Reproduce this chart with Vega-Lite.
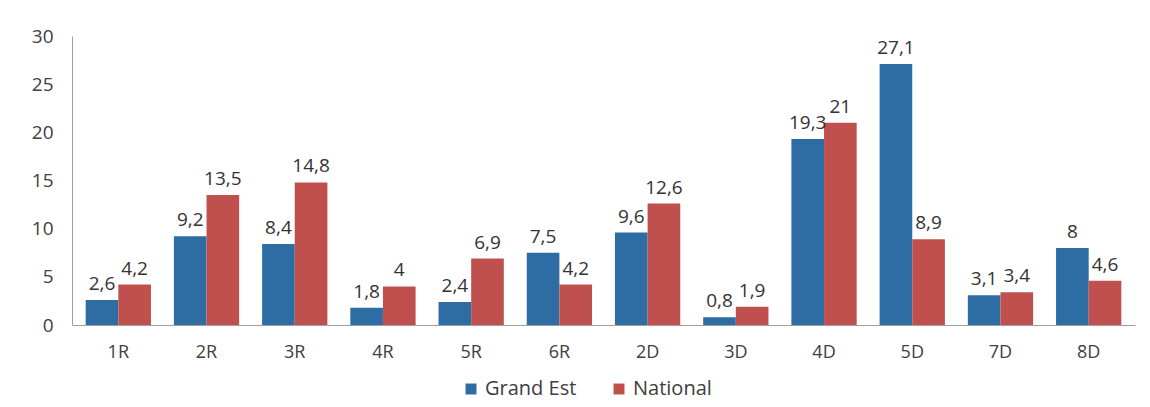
{
  "$schema": "https://vega.github.io/schema/vega-lite/v6.json",
  "width": 1063,
  "height": 289,
  "autosize": {"type": "none"},
  "padding": {"left": 72, "top": 36, "right": 15, "bottom": 82},
  "background": "white",
  "data": {
    "values": [
      {"cat": "1R", "serie": "Grand Est", "v": 2.6},
      {"cat": "1R", "serie": "National", "v": 4.2},
      {"cat": "2R", "serie": "Grand Est", "v": 9.2},
      {"cat": "2R", "serie": "National", "v": 13.5},
      {"cat": "3R", "serie": "Grand Est", "v": 8.4},
      {"cat": "3R", "serie": "National", "v": 14.8},
      {"cat": "4R", "serie": "Grand Est", "v": 1.8},
      {"cat": "4R", "serie": "National", "v": 4},
      {"cat": "5R", "serie": "Grand Est", "v": 2.4},
      {"cat": "5R", "serie": "National", "v": 6.9},
      {"cat": "6R", "serie": "Grand Est", "v": 7.5},
      {"cat": "6R", "serie": "National", "v": 4.2},
      {"cat": "2D", "serie": "Grand Est", "v": 9.6},
      {"cat": "2D", "serie": "National", "v": 12.6},
      {"cat": "3D", "serie": "Grand Est", "v": 0.8},
      {"cat": "3D", "serie": "National", "v": 1.9},
      {"cat": "4D", "serie": "Grand Est", "v": 19.3},
      {"cat": "4D", "serie": "National", "v": 21},
      {"cat": "5D", "serie": "Grand Est", "v": 27.1},
      {"cat": "5D", "serie": "National", "v": 8.9},
      {"cat": "7D", "serie": "Grand Est", "v": 3.1},
      {"cat": "7D", "serie": "National", "v": 3.4},
      {"cat": "8D", "serie": "Grand Est", "v": 8},
      {"cat": "8D", "serie": "National", "v": 4.6}
    ]
  },
  "encoding": {
    "x": {
      "field": "cat", "type": "nominal", "sort": null,
      "scale": {"paddingInner": 0.26, "paddingOuter": 0.155},
      "axis": {"title": null, "labelAngle": 0, "ticks": false, "domainColor": "#a0a0a0", "labelPadding": 18, "labelFontSize": 18, "labelColor": "#404040", "labelFont": "Open Sans", "grid": false}
    },
    "xOffset": {"field": "serie", "type": "nominal"},
    "y": {
      "field": "v", "type": "quantitative",
      "scale": {"domain": [0, 30]},
      "axis": {"title": null, "values": [0, 5, 10, 15, 20, 25, 30], "ticks": false, "grid": false, "domainColor": "#a0a0a0", "labelPadding": 19, "labelFontSize": 19, "labelColor": "#404040", "labelFont": "Open Sans"}
    }
  },
  "layer": [
    {
      "mark": {"type": "bar"},
      "encoding": {
        "color": {
          "field": "serie", "type": "nominal",
          "scale": {"domain": ["Grand Est", "National"], "range": ["#2e6da4", "#c0504d"]},
          "legend": {
            "title": null, "orient": "none", "direction": "horizontal",
            "legendX": 389, "legendY": 343, "symbolType": "square", "symbolSize": 120,
            "labelFontSize": 20, "labelFont": "Open Sans", "labelColor": "#404040",
            "columnPadding": 32, "symbolStrokeWidth": 0
          }
        }
      }
    },
    {
      "mark": {"type": "text", "baseline": "bottom", "dy": -6, "fontSize": 19, "font": "Open Sans", "color": "#333333"},
      "encoding": {
        "text": {"field": "v", "type": "quantitative", "format": "~g"}
      }
    }
  ],
  "config": {
    "view": {"stroke": null},
    "locale": {"number": {"decimal": ",", "thousands": " ", "grouping": [3], "currency": ["", " €"]}}
  }
}
